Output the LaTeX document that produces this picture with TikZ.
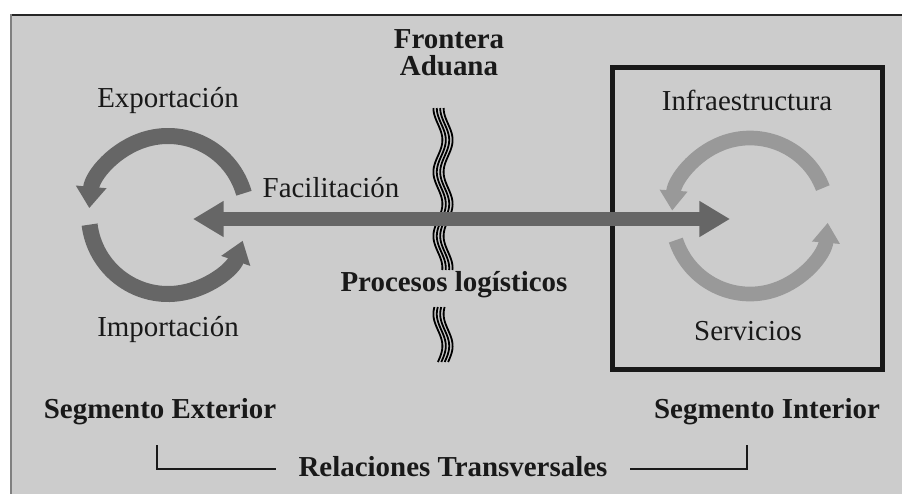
\documentclass[tikz,border=0pt]{standalone}
\usepackage{fontspec}
\setmainfont{Liberation Serif}
\usetikzlibrary{arrows.meta}
\definecolor{panel}{RGB}{204,204,204}
\definecolor{cycdark}{RGB}{102,102,102}
\definecolor{cyclight}{RGB}{153,153,153}
\tikzset{
  lbl/.style={inner sep=0pt, anchor=base, text=black!90, font=\fontsize{21.7}{26}\selectfont},
  blbl/.style={lbl, font=\fontsize{21.7}{26}\selectfont\bfseries},
  wave/.style={line width=1.35pt, black},
}

\begin{document}
\begin{tikzpicture}[x=0.75pt,y=0.75pt,yscale=-1,xscale=1]
\useasboundingbox (0,0) rectangle (902,494);

%Shape: Rectangle (background)
\fill[panel] (10,14) rectangle (902,494);
\draw[line width=1.5, black!85] (10,14.5) -- (902,14.5);
\draw[line width=1.5, gray] (10.5,14) -- (10.5,494);

%Shape: Rectangle (interior frame)
\draw[line width=3.75pt, black!90] (612.5,67.5) rectangle (882.5,369.5);

%Wavy lines (frontier), period 64
\foreach \dx in {-5.1,-1.7,1.7,5.1} {
  \draw[wave] plot[domain=108:270, samples=80, smooth] ({443+\dx-4.5*cos(5.625*(\x-108))}, \x);
  \draw[wave] plot[domain=307:362, samples=40, smooth] ({443+\dx-4.5*cos(5.625*(\x-314))}, \x);
}

%Straight Lines (double arrow)
\coordinate (facL) at (193,219);
\coordinate (facR) at (730,219);
\draw[cycdark, line width=10.5pt, {Triangle[width=25.5pt,length=23pt]}-{Triangle[width=25.5pt,length=23pt]}] (facL) -- (facR);

%Arcs: exterior cycle
\coordinate (ext) at (168,215);
\draw[cycdark, line width=12pt, -{Triangle[width=22pt,length=16pt]}] ([shift={(-16:79)}]ext) arc[start angle=-16, end angle=-175, radius=79];
\draw[cycdark, line width=12pt, -{Triangle[width=22pt,length=16pt]}] ([shift={(173:79)}]ext) arc[start angle=173, end angle=19, radius=79];

%Arcs: interior cycle
\coordinate (int) at (750,216);
\draw[cyclight, line width=11pt, -{Triangle[width=20pt,length=15pt]}] ([shift={(-21:78)}]int) arc[start angle=-21, end angle=-176, radius=78];
\draw[cyclight, line width=11pt, -{Triangle[width=20pt,length=15pt]}] ([shift={(162:78)}]int) arc[start angle=162, end angle=5, radius=78];

% Text Node
\node[blbl] (front) at (449,48) {Frontera};
% Text Node
\node[blbl] (adu) at (449,75) {Aduana};
% Text Node
\node[lbl] (expo) at (168,107) {Exportación};
% Text Node
\node[lbl] (facil) at (331,197) {Facilitación};
% Text Node
\node[lbl] (impo) at (168,336) {Importación};
% Text Node
\node[blbl] (proc) at (454,291) {Procesos logísticos};
% Text Node
\node[lbl] (infra) at (747,110) {Infraestructura};
% Text Node
\node[lbl] (serv) at (748,340) {Servicios};
% Text Node
\node[blbl] (segext) at (160,418) {Segmento Exterior};
% Text Node
\node[blbl] (segint) at (767,418) {Segmento Interior};
% Text Node
\node[blbl] (rel) at (453,476) {Relaciones Transversales};

%Straight Lines (bracket)
\coordinate (brL) at (157,445);
\coordinate (brLend) at (276,469);
\coordinate (brR) at (747,445);
\coordinate (brRend) at (630,469);
\draw[line width=1.5, black!90] (brL) |- (brLend);
\draw[line width=1.5, black!90] (brR) |- (brRend);

\end{tikzpicture}
\end{document}
